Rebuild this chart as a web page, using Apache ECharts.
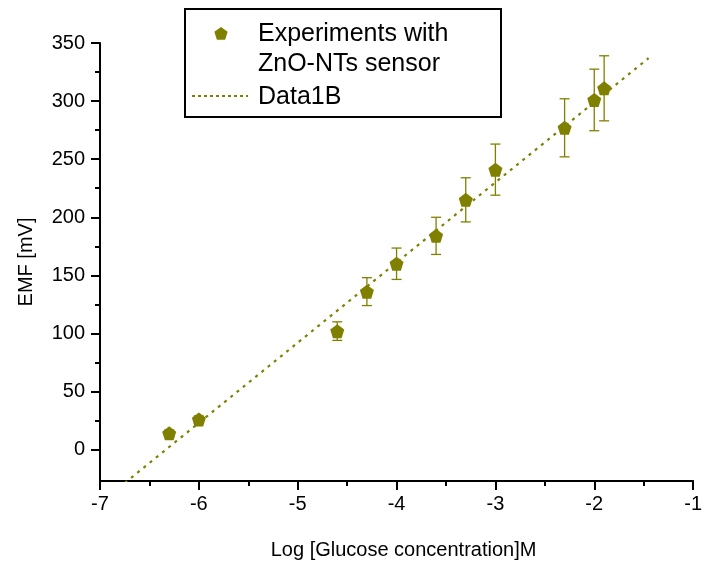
<!DOCTYPE html>
<html>
<head>
<meta charset="utf-8">
<script src="https://cdn.jsdelivr.net/npm/echarts@6/dist/echarts.min.js"></script>
<style>
  html, body { margin: 0; padding: 0; background: #fff; }
  #chart { width: 705px; height: 569px; }
</style>
</head>
<body>
<div id="chart"></div>
<script>
// 数据
const logConc = [-6.3, -6, -4.6, -4.3, -4, -3.6, -3.3, -3, -2.3, -2, -1.9]
const emf = [14, 26, 102, 136, 160, 184, 215, 241, 277, 301, 311]
const emfErr = [3, 3, 8, 12, 13.5, 16, 19, 22, 25, 26.5, 28]
const fitX = [-7, -1.45]
const fitY = [-46, 337]
const yLabels = [0, 50, 100, 150, 200, 250, 300, 350]
const yMinor = [25, 75, 125, 175, 225, 275, 325]

const olive = '#808000'
const pentagon = 'path://M0,-10L9.51,-3.09L5.88,8.09L-5.88,8.09L-9.51,-3.09Z'
const font = 'Liberation Sans, Arial, sans-serif'

const chart = echarts.init(document.getElementById('chart'))

const points = logConc.map((x, i) => [x, emf[i]])
const errData = logConc.map((x, i) => [x, emf[i] - emfErr[i], emf[i] + emfErr[i]])

// 图例里的五边形
const legendPent = [[0, -10], [9.51, -3.09], [5.88, 8.09], [-5.88, 8.09], [-9.51, -3.09]]
  .map(p => [221 + p[0] * 0.7, 34 + p[1] * 0.7])

const option = {
  animation: false,
  grid: { left: 100, right: 11, top: 43, bottom: 88 },
  xAxis: {
    type: 'value',
    min: -7,
    max: -1,
    interval: 1,
    name: 'Log [Glucose concentration]M',
    nameLocation: 'middle',
    nameGap: 59,
    nameTextStyle: { color: '#000', fontSize: 20, fontFamily: font, padding: [0, 0, 0, 14] },
    axisLine: { onZero: false, lineStyle: { color: '#000', width: 2 } },
    axisTick: { length: 9, lineStyle: { color: '#000', width: 2 } },
    minorTick: { show: true, splitNumber: 2, length: 5, lineStyle: { color: '#000', width: 2 } },
    axisLabel: { color: '#000', fontSize: 20, fontFamily: font, margin: 13 },
    splitLine: { show: false }
  },
  yAxis: [
    {
      type: 'value',
      min: -27,
      max: 350,
      name: 'EMF [mV]',
      nameLocation: 'middle',
      nameGap: 64,
      nameTextStyle: { color: '#000', fontSize: 20, fontFamily: font },
      axisLine: { show: true, lineStyle: { color: '#000', width: 2 } },
      axisTick: { show: true, length: 9, customValues: yLabels, lineStyle: { color: '#000', width: 2 } },
      axisLabel: { color: '#000', fontSize: 20, fontFamily: font, margin: 15, customValues: yLabels },
      splitLine: { show: false }
    },
    {
      type: 'value',
      min: -27,
      max: 350,
      position: 'left',
      axisLine: { show: false },
      axisTick: { show: true, length: 5, customValues: yMinor, lineStyle: { color: '#000', width: 2 } },
      axisLabel: { show: false },
      splitLine: { show: false }
    }
  ],
  series: [
    {
      name: 'Data1B',
      type: 'line',
      data: fitX.map((x, i) => [x, fitY[i]]),
      symbol: 'none',
      clip: true,
      lineStyle: { color: olive, width: 2.2, type: [3, 5] },
      z: 2
    },
    {
      name: 'errors',
      type: 'custom',
      data: errData,
      clip: true,
      renderItem: function (params, api) {
        const x = api.value(0)
        const lo = api.coord([x, api.value(1)])
        const hi = api.coord([x, api.value(2)])
        const w = 5
        const style = { stroke: olive, lineWidth: 1.3 }
        return {
          type: 'group',
          children: [
            { type: 'line', shape: { x1: hi[0], y1: hi[1], x2: lo[0], y2: lo[1] }, style: style },
            { type: 'line', shape: { x1: hi[0] - w, y1: hi[1], x2: hi[0] + w, y2: hi[1] }, style: style },
            { type: 'line', shape: { x1: lo[0] - w, y1: lo[1], x2: lo[0] + w, y2: lo[1] }, style: style }
          ]
        }
      },
      z: 3
    },
    {
      name: 'Experiments',
      type: 'scatter',
      data: points,
      symbol: pentagon,
      symbolSize: 14,
      itemStyle: { color: olive, opacity: 1 },
      z: 4
    }
  ],
  graphic: [
    {
      type: 'rect',
      shape: { x: 185, y: 9, width: 316, height: 108 },
      style: { fill: '#fff', stroke: '#000', lineWidth: 2 },
      z: 10
    },
    {
      type: 'polygon',
      shape: { points: legendPent },
      style: { fill: olive },
      z: 11
    },
    {
      type: 'text',
      x: 258, y: 34,
      style: { text: 'Experiments with', fill: '#000', font: '25px ' + font, verticalAlign: 'middle' },
      z: 11
    },
    {
      type: 'text',
      x: 258, y: 64,
      style: { text: 'ZnO-NTs sensor', fill: '#000', font: '25px ' + font, verticalAlign: 'middle' },
      z: 11
    },
    {
      type: 'line',
      shape: { x1: 192, y1: 96, x2: 248, y2: 96 },
      style: { stroke: olive, lineWidth: 2, lineDash: [3, 3] },
      z: 11
    },
    {
      type: 'text',
      x: 258, y: 97,
      style: { text: 'Data1B', fill: '#000', font: '25px ' + font, verticalAlign: 'middle' },
      z: 11
    }
  ]
}

chart.setOption(option)
</script>
</body>
</html>
